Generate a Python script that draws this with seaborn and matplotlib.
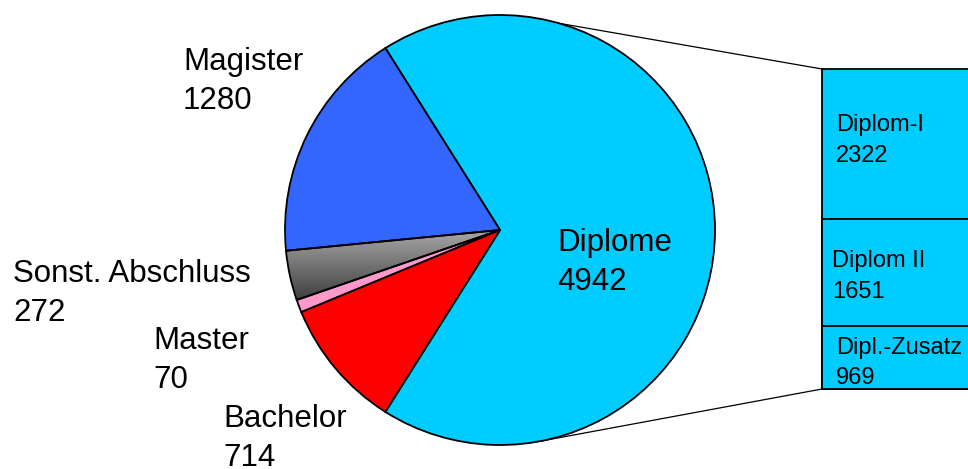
import numpy as np
import matplotlib
matplotlib.use("Agg")
import matplotlib.pyplot as plt
from matplotlib.patches import ConnectionPatch
from matplotlib.colors import LinearSegmentedColormap
import seaborn as sns

# pie data
abschluss = ["Diplome", "Magister", "Sonst. Abschluss", "Master", "Bachelor"]
anzahl = [4942, 1280, 272, 70, 714]
farben = ["#00CCFF", "#3366FF", "#808080", "#FF99CC", "#FF0000"]

# breakdown of Diplome (bottom to top in the bar)
diplom_teile = ["Dipl.-Zusatz", "Diplom II", "Diplom-I"]
diplom_anzahl = [969, 1651, 2322]

sns.set_theme(style="white")
plt.rcParams["font.family"] = ["Liberation Sans", "DejaVu Sans"]

W, H = 968, 469
fig = plt.figure(figsize=(W / 100, H / 100), dpi=100)
ax = fig.add_axes([0, 0, 1, 1])
ax.set_zorder(2)

cx, cy, r = 500, H - 230, 215
share = anzahl[0] / sum(anzahl)
wedges, _ = ax.pie(anzahl, colors=farben, startangle=-180 * share,
                   counterclock=True, center=(cx, cy), radius=r, frame=False,
                   wedgeprops=dict(edgecolor="black", linewidth=1.3))

# grey gradient for "Sonst. Abschluss"
grey = wedges[2]
grey.set_facecolor("none")
grey.set_zorder(2)
cmap = LinearSegmentedColormap.from_list("g", ["#383838", "#aaaaaa"])
grad = np.linspace(0, 1, 100).reshape(-1, 1)
im = ax.imshow(grad, cmap=cmap, origin="lower", aspect="auto",
               extent=[cx - r - 5, cx + 5, cy - 75, cy + 2], zorder=0.5)
im.set_clip_path(grey)

ax.set_xlim(0, W)
ax.set_ylim(0, H)
ax.set_aspect("equal")
ax.axis("off")


def label(x, ytop, name, val, size, pitch):
    ax.text(x, H - ytop, name, fontsize=size, va="top", ha="left", color="black")
    ax.text(x, H - ytop - pitch, str(val), fontsize=size, va="top", ha="left", color="black")


main_pos = {"Diplome": (557, 228), "Magister": (183, 47),
            "Sonst. Abschluss": (13, 259), "Master": (153, 326),
            "Bachelor": (223, 404)}
for name, val in zip(abschluss, anzahl):
    x, y = main_pos[name]
    label(x, y, name, val, 22.5, 39)

# stacked bar for Diplome breakdown
ax2 = fig.add_axes([822 / W, 80 / H, 180 / W, 320 / H])
ax2.set_zorder(1)
cum = np.cumsum(diplom_anzahl)
for total in cum[::-1]:
    sns.barplot(x=["Diplome"], y=[total], color=farben[0], saturation=1,
                edgecolor="black", linewidth=1.3, width=0.8, ax=ax2)
ax2.set_xlim(-0.4, 0.5)
ax2.set_ylim(0, cum[-1])
ax2.axis("off")
for p in ax2.patches:
    p.set_clip_on(False)

bar_pos = {"Diplom-I": (836, 114), "Diplom II": (832, 250), "Dipl.-Zusatz": (836, 337)}
for name, val in zip(diplom_teile, diplom_anzahl):
    x, y = bar_pos[name]
    label(x, y, name, val, 17, 30.5)

# connector lines from pie to bar
for ang, yb in [(74, cum[-1]), (-80, 0)]:
    t = np.deg2rad(ang)
    con = ConnectionPatch(xyA=(cx + r * np.cos(t), cy + r * np.sin(t)), coordsA=ax.transData,
                          xyB=(-0.4, yb), coordsB=ax2.transData,
                          color="black", linewidth=0.9)
    fig.add_artist(con)

fig.savefig("out.png", dpi=100)
